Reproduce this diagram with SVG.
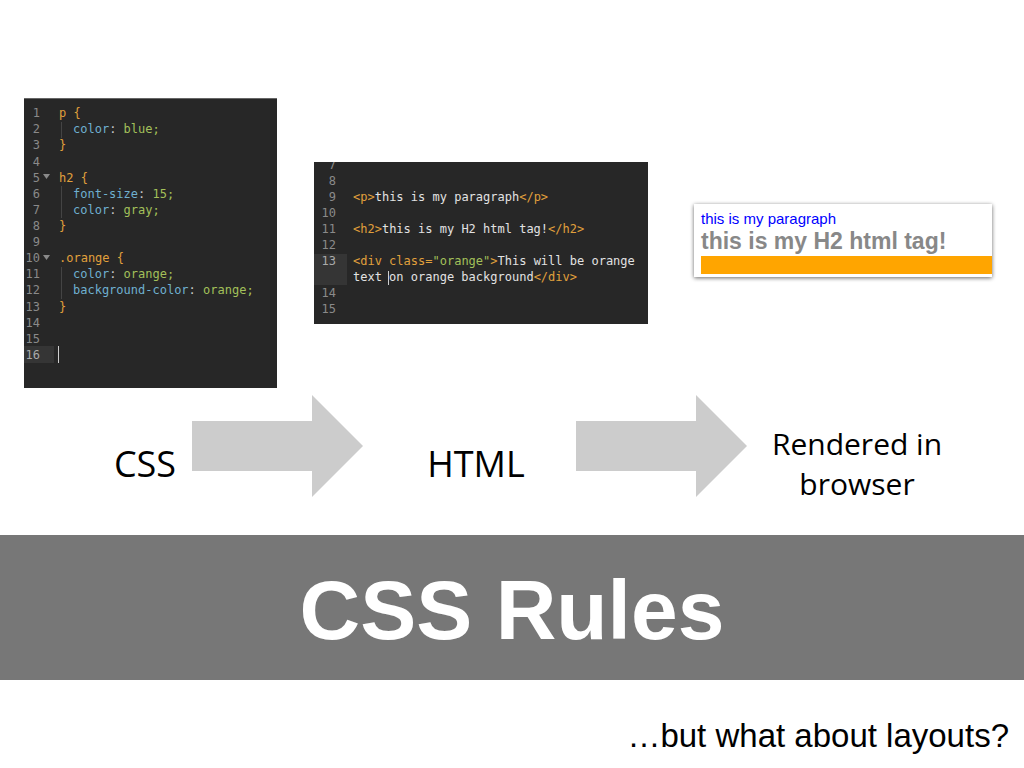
<svg xmlns="http://www.w3.org/2000/svg" width="1024" height="768" viewBox="0 0 1024 768">
<defs>
<style>
.code{font-family:"DejaVu Sans Mono","Liberation Mono",monospace;font-size:12px;}
.ln{fill:#8a8a8a;text-anchor:end;}
.tag{fill:#e0a03c;}
.prop{fill:#6fb0d0;}
.val{fill:#a3c05a;}
.txt{fill:#e2e2e2;}
.pun{fill:#c8c8c8;}
.guide{stroke:#444;stroke-width:1;}
.lbl{font-family:"Open Sans","Liberation Sans",sans-serif;font-size:36px;fill:#000;text-anchor:middle;}
.arrow{fill:#cccccc;}
</style>
<filter id="sh" x="-10%" y="-20%" width="120%" height="140%">
<feGaussianBlur in="SourceAlpha" stdDeviation="2"/>
<feOffset dx="0" dy="1"/>
<feComponentTransfer><feFuncA type="linear" slope="0.6"/></feComponentTransfer>
<feMerge><feMergeNode/><feMergeNode in="SourceGraphic"/></feMerge>
</filter>
<clipPath id="c2"><rect x="314" y="162" width="334" height="162"/></clipPath>
</defs>
<rect width="1024" height="768" fill="#ffffff"/>

<g id="css-panel">
<rect x="24" y="98" width="253" height="290" fill="#272727"/>
<line x1="24" y1="98.5" x2="277" y2="98.5" stroke="#666"/>
<rect x="24" y="346" width="30" height="17" fill="#353535"/>
<line x1="58.5" y1="346" x2="58.5" y2="363" stroke="#cfcfcf"/>
<line class="guide" x1="61.5" y1="122" x2="61.5" y2="138"/>
<line class="guide" x1="61.5" y1="186" x2="61.5" y2="218"/>
<line class="guide" x1="61.5" y1="267" x2="61.5" y2="299"/>
<polygon points="43,174 50,174 46.5,179" fill="#8a8a8a"/>
<polygon points="43,255 50,255 46.5,260" fill="#8a8a8a"/>
<g class="code">
<text class="ln" x="40" y="117">1</text>
<text class="ln" x="40" y="133">2</text>
<text class="ln" x="40" y="149">3</text>
<text class="ln" x="40" y="166">4</text>
<text class="ln" x="40" y="182">5</text>
<text class="ln" x="40" y="198">6</text>
<text class="ln" x="40" y="214">7</text>
<text class="ln" x="40" y="230">8</text>
<text class="ln" x="40" y="246">9</text>
<text class="ln" x="40" y="262">10</text>
<text class="ln" x="40" y="278">11</text>
<text class="ln" x="40" y="294">12</text>
<text class="ln" x="40" y="311">13</text>
<text class="ln" x="40" y="327">14</text>
<text class="ln" x="40" y="343">15</text>
<text class="ln" x="40" y="359" style="fill:#aaa">16</text>
<text class="tag" x="59" y="117">p {</text>
<text x="73" y="133"><tspan class="prop">color</tspan><tspan class="pun">: </tspan><tspan class="val">blue;</tspan></text>
<text class="tag" x="59" y="149">}</text>
<text class="tag" x="59" y="182">h2 {</text>
<text x="73" y="198"><tspan class="prop">font-size</tspan><tspan class="pun">: </tspan><tspan class="val">15;</tspan></text>
<text x="73" y="214"><tspan class="prop">color</tspan><tspan class="pun">: </tspan><tspan class="val">gray;</tspan></text>
<text class="tag" x="59" y="230">}</text>
<text class="tag" x="59" y="262">.orange {</text>
<text x="73" y="278"><tspan class="prop">color</tspan><tspan class="pun">: </tspan><tspan class="val">orange;</tspan></text>
<text x="73" y="294"><tspan class="prop">background-color</tspan><tspan class="pun">: </tspan><tspan class="val">orange;</tspan></text>
<text class="tag" x="59" y="311">}</text>
</g>
</g>

<g id="html-panel">
<rect x="314" y="162" width="334" height="162" fill="#272727"/>
<rect x="314" y="254" width="33" height="31" fill="#353535"/>
<line x1="388.5" y1="271" x2="388.5" y2="285" stroke="#cfcfcf"/>
<g class="code" clip-path="url(#c2)">
<text class="ln" x="336" y="169">7</text>
<text class="ln" x="336" y="185">8</text>
<text class="ln" x="336" y="201">9</text>
<text class="ln" x="336" y="217">10</text>
<text class="ln" x="336" y="233">11</text>
<text class="ln" x="336" y="249">12</text>
<text class="ln" x="336" y="265" style="fill:#aaa">13</text>
<text class="ln" x="336" y="297">14</text>
<text class="ln" x="336" y="313">15</text>
<text x="353" y="201"><tspan class="tag">&lt;p&gt;</tspan><tspan class="txt">this is my paragraph</tspan><tspan class="tag">&lt;/p&gt;</tspan></text>
<text x="353" y="233"><tspan class="tag">&lt;h2&gt;</tspan><tspan class="txt">this is my H2 html tag!</tspan><tspan class="tag">&lt;/h2&gt;</tspan></text>
<text x="353" y="265"><tspan class="tag">&lt;div class=</tspan><tspan class="val">"orange"</tspan><tspan class="tag">&gt;</tspan><tspan class="txt">This will be orange</tspan></text>
<text x="353" y="281"><tspan class="txt">text on orange background</tspan><tspan class="tag">&lt;/div&gt;</tspan></text>
</g>
</g>

<g id="rendered-panel">
<rect x="694" y="204" width="298" height="73" fill="#ffffff" filter="url(#sh)"/>
<text x="701" y="224" font-family="Liberation Sans, Arial, sans-serif" font-size="15" fill="#0000ff">this is my paragraph</text>
<text x="701" y="249" font-family="Liberation Sans, Arial, sans-serif" font-size="23" font-weight="bold" fill="#888888">this is my H2 html tag!</text>
<rect x="701" y="256" width="291" height="18" fill="#ffa500"/>
</g>

<g id="label-css"><text class="lbl" x="145" y="477">CSS</text></g>
<g id="label-html"><text class="lbl" x="476" y="477">HTML</text></g>
<g id="label-rendered">
<text class="lbl" x="857" y="455" style="font-size:30px">Rendered in</text>
<text class="lbl" x="857" y="495" style="font-size:30px">browser</text>
</g>

<g id="connectors">
<polygon class="arrow" points="192,421 312,421 312,395 363,446 312,497 312,471 192,471"/>
<polygon class="arrow" points="576,421 696,421 696,395 747,446 696,497 696,471 576,471"/>
</g>

<g id="title-band">
<rect x="0" y="535" width="1024" height="145" fill="#777777"/>
<text x="512" y="639" font-family="Liberation Sans, Arial, sans-serif" font-size="84" font-weight="bold" fill="#ffffff" text-anchor="middle">CSS Rules</text>
</g>

<g id="footer">
<text x="1009" y="747" font-family="Liberation Sans, Arial, sans-serif" font-size="33" fill="#000" text-anchor="end">…but what about layouts?</text>
</g>
</svg>
